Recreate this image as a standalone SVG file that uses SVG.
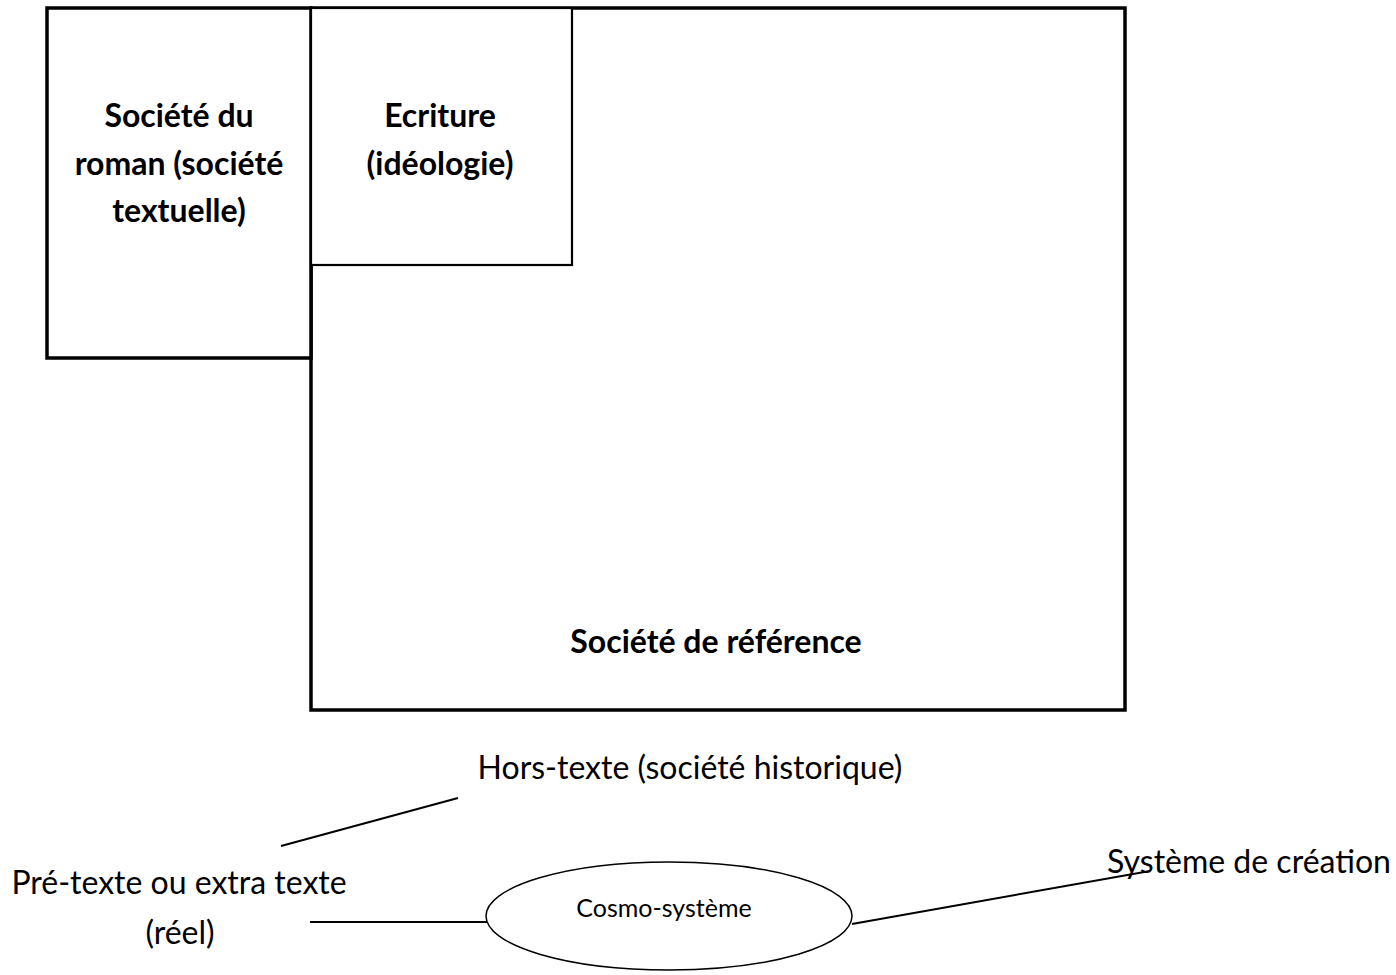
<svg xmlns="http://www.w3.org/2000/svg" width="1396" height="975" viewBox="0 0 1396 975">
  <style>
    .box { fill: #ffffff; stroke: #000000; }
    .heavy { stroke-width: 3.5; }
    .light { stroke-width: 2.2; }
    .bold { font-family: Lato, "Liberation Sans", sans-serif; font-weight: 700; font-size: 32px; fill: #000; text-anchor: middle; }
    .reg { font-family: Lato, "Liberation Sans", sans-serif; font-size: 32px; fill: #000; text-anchor: middle; }
    .small { font-family: Lato, "Liberation Sans", sans-serif; font-size: 25px; fill: #000; text-anchor: middle; }
    .link { stroke: #000000; stroke-width: 2; fill: none; }
  </style>

  <!-- outer frame: reference society -->
  <g id="societe-reference">
    <rect class="box heavy" x="311" y="8" width="814" height="702"/>
    <text class="bold" x="716" y="653">Société de référence</text>
  </g>

  <!-- society of the novel -->
  <g id="societe-roman">
    <rect class="box heavy" x="47" y="8" width="264" height="350"/>
    <text class="bold" x="179" y="127">Société du</text>
    <text class="bold" x="179" y="175">roman (société</text>
    <text class="bold" x="179" y="222">textuelle)</text>
  </g>

  <!-- writing / ideology -->
  <g id="ecriture">
    <rect class="box light" x="311" y="8" width="261" height="257"/>
    <text class="bold" x="440" y="127">Ecriture</text>
    <text class="bold" x="440" y="175">(idéologie)</text>
  </g>

  <g id="hors-texte">
    <text class="reg" x="690" y="779" font-size="33">Hors-texte (société historique)</text>
  </g>

  <g id="pre-texte">
    <text class="reg" x="179" y="894">Pré-texte ou extra texte</text>
    <text class="reg" x="180" y="944">(réel)</text>
  </g>

  <g id="cosmo-systeme">
    <ellipse class="box" stroke-width="1.5" cx="669" cy="916" rx="183" ry="54"/>
    <text class="small" x="664" y="917">Cosmo-système</text>
  </g>

  <g id="systeme-creation">
    <text class="reg" x="1249" y="873">Système de création</text>
  </g>

  <!-- connectors -->
  <g id="connectors">
    <line class="link" x1="281" y1="846" x2="458" y2="798"/>
    <line class="link" x1="310" y1="922" x2="487" y2="922"/>
    <line class="link" x1="852" y1="924" x2="1150" y2="871"/>
  </g>
</svg>
